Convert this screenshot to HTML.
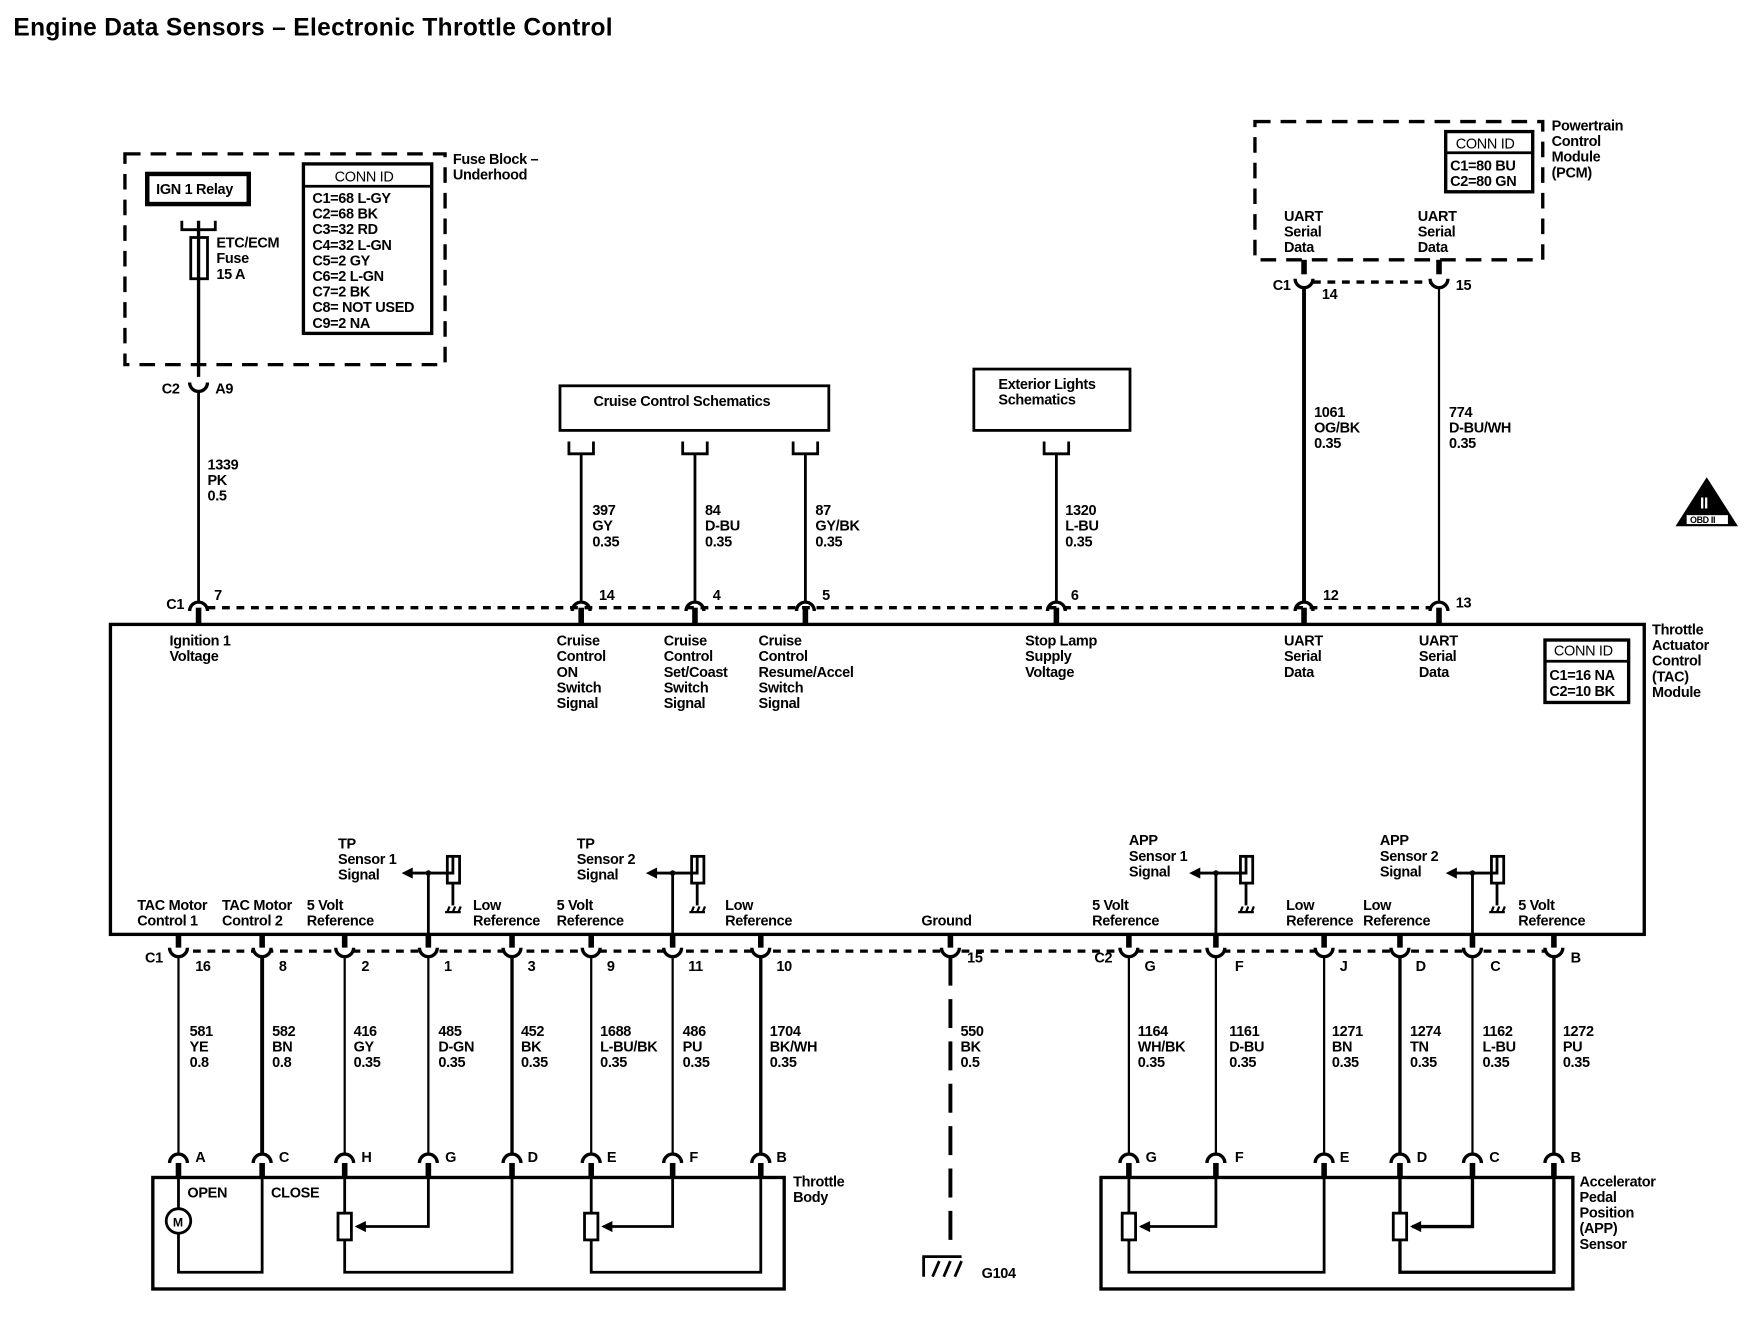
<!DOCTYPE html>
<html><head><meta charset="utf-8"><style>
html,body{margin:0;padding:0;background:#fff;}
svg{display:block;}
text{font-family:"Liberation Sans",Arial,sans-serif;font-size:13px;fill:#000;font-weight:bold;letter-spacing:-0.3px;}
.t{font-weight:normal;}
</style></head><body>
<svg width="1748" height="1328" viewBox="0 0 1567 1191" preserveAspectRatio="none" xmlns="http://www.w3.org/2000/svg">
<g fill="none" stroke="#000" stroke-width="2.5">
<rect x="112" y="138" width="287" height="189" stroke-dasharray="14,9" stroke-width="3"/>
<rect x="132" y="156" width="91" height="27" stroke-width="4"/>
<rect x="272" y="147" width="115" height="152" stroke-width="3"/>
<line x1="272" y1="167" x2="387" y2="167"/>
<path d="M163 198 v8 h30 v-8" stroke-width="2.5"/>
<rect x="171" y="213" width="15" height="37"/>
<line x1="178" y1="198" x2="178" y2="338" stroke-width="3"/>
<path d="M170 343 A8 8 0 0 0 186 343" stroke-width="3"/>
<line x1="178" y1="351" x2="178" y2="540" stroke-width="2.5"/>
<rect x="502" y="346" width="241" height="40"/>
<rect x="873" y="331" width="140" height="55"/>
<path d="M510 396 v11 h22 v-11 M612 396 v11 h22 v-11 M711 396 v11 h22 v-11 M936 396 v11 h22 v-11"/>
<line x1="521" y1="407" x2="521" y2="540"/>
<line x1="623" y1="407" x2="623" y2="540"/>
<line x1="722" y1="407" x2="722" y2="540"/>
<line x1="947" y1="407" x2="947" y2="540"/>
<rect x="1125" y="109" width="258" height="124" stroke-dasharray="14,9" stroke-width="3"/>
<rect x="1296" y="118" width="78" height="54" stroke-width="3"/>
<line x1="1296" y1="137" x2="1374" y2="137"/>
<line x1="1169" y1="233" x2="1169" y2="246" stroke-width="5"/>
<line x1="1290" y1="233" x2="1290" y2="246" stroke-width="5"/>
<path d="M1161 250 A8 8 0 0 0 1177 250 M1282 250 A8 8 0 0 0 1298 250" stroke-width="3"/>
<line x1="1177" y1="253" x2="1282" y2="253" stroke-dasharray="7,6" stroke-width="3"/>
<line x1="1169" y1="258" x2="1169" y2="540" stroke-width="3.5"/>
<line x1="1290" y1="258" x2="1290" y2="540" stroke-width="2"/>
<line x1="186" y1="545" x2="1282" y2="545" stroke-dasharray="7,6" stroke-width="3"/>
<path d="M170 548 A8 8 0 0 1 186 548 M513 548 A8 8 0 0 1 529 548 M615 548 A8 8 0 0 1 631 548 M714 548 A8 8 0 0 1 730 548 M939 548 A8 8 0 0 1 955 548 M1161 548 A8 8 0 0 1 1177 548 M1282 548 A8 8 0 0 1 1298 548" stroke-width="3"/>
<g stroke-width="5"><line x1="178" y1="545" x2="178" y2="560"/><line x1="521" y1="545" x2="521" y2="560"/><line x1="623" y1="545" x2="623" y2="560"/><line x1="722" y1="545" x2="722" y2="560"/><line x1="947" y1="545" x2="947" y2="560"/><line x1="1169" y1="545" x2="1169" y2="560"/><line x1="1290" y1="545" x2="1290" y2="560"/></g>
<rect x="99" y="560" width="1375" height="278" stroke-width="3"/>
<rect x="1385" y="574" width="75" height="56" stroke-width="3"/>
<line x1="1385" y1="593" x2="1460" y2="593"/>
<g stroke-width="2.5">
<path d="M384 838 V783 H406 V768"/><rect x="401" y="768" width="11" height="24"/><path d="M406 792 V812"/><path d="M369 783 H384"/>
<path d="M603 838 V783 H625 V768"/><rect x="620" y="768" width="11" height="24"/><path d="M625 792 V812"/><path d="M588 783 H603"/>
<path d="M1090 838 V783 H1117 V768"/><rect x="1112" y="768" width="11" height="24"/><path d="M1117 792 V812"/><path d="M1075 783 H1090"/>
<path d="M1320 838 V783 H1342 V768"/><rect x="1337" y="768" width="11" height="24"/><path d="M1342 792 V812"/><path d="M1305 783 H1320"/>
</g>
<line x1="160" y1="853" x2="1393" y2="853" stroke-dasharray="7,6" stroke-width="3"/>
<g stroke-width="5">
<line x1="160" y1="838" x2="160" y2="850"/><line x1="235" y1="838" x2="235" y2="850"/><line x1="309" y1="838" x2="309" y2="850"/><line x1="384" y1="838" x2="384" y2="850"/><line x1="459" y1="838" x2="459" y2="850"/><line x1="530" y1="838" x2="530" y2="850"/><line x1="603" y1="838" x2="603" y2="850"/><line x1="682" y1="838" x2="682" y2="850"/><line x1="852" y1="838" x2="852" y2="850"/>
<line x1="1012" y1="838" x2="1012" y2="850"/><line x1="1090" y1="838" x2="1090" y2="850"/><line x1="1187" y1="838" x2="1187" y2="850"/><line x1="1255" y1="838" x2="1255" y2="850"/><line x1="1320" y1="838" x2="1320" y2="850"/><line x1="1393" y1="838" x2="1393" y2="850"/>
</g>
<path d="M152 850 A8 8 0 0 0 168 850 M227 850 A8 8 0 0 0 243 850 M301 850 A8 8 0 0 0 317 850 M376 850 A8 8 0 0 0 392 850 M451 850 A8 8 0 0 0 467 850 M522 850 A8 8 0 0 0 538 850 M595 850 A8 8 0 0 0 611 850 M674 850 A8 8 0 0 0 690 850 M844 850 A8 8 0 0 0 860 850 M1004 850 A8 8 0 0 0 1020 850 M1082 850 A8 8 0 0 0 1098 850 M1179 850 A8 8 0 0 0 1195 850 M1247 850 A8 8 0 0 0 1263 850 M1312 850 A8 8 0 0 0 1328 850 M1385 850 A8 8 0 0 0 1401 850" fill="#fff" stroke-width="3"/>
<g stroke-width="2.5">
<line x1="160" y1="858" x2="160" y2="1035" stroke-width="2"/><line x1="235" y1="858" x2="235" y2="1035" stroke-width="3.5"/><line x1="309" y1="858" x2="309" y2="1035" stroke-width="2"/><line x1="384" y1="858" x2="384" y2="1035" stroke-width="2"/><line x1="459" y1="858" x2="459" y2="1035" stroke-width="3"/><line x1="530" y1="858" x2="530" y2="1035" stroke-width="2"/><line x1="603" y1="858" x2="603" y2="1035" stroke-width="2"/><line x1="682" y1="858" x2="682" y2="1035" stroke-width="3"/>
<line x1="852" y1="858" x2="852" y2="1120" stroke-dasharray="26,12" stroke-width="3.5"/>
<line x1="1012" y1="858" x2="1012" y2="1035" stroke-width="2"/><line x1="1090" y1="858" x2="1090" y2="1035" stroke-width="2"/><line x1="1187" y1="858" x2="1187" y2="1035" stroke-width="2"/><line x1="1255" y1="858" x2="1255" y2="1035" stroke-width="3"/><line x1="1320" y1="858" x2="1320" y2="1035" stroke-width="2"/><line x1="1393" y1="858" x2="1393" y2="1035" stroke-width="3"/>
</g>
<path d="M152 1043 A8 8 0 0 1 168 1043 M227 1043 A8 8 0 0 1 243 1043 M301 1043 A8 8 0 0 1 317 1043 M376 1043 A8 8 0 0 1 392 1043 M451 1043 A8 8 0 0 1 467 1043 M522 1043 A8 8 0 0 1 538 1043 M595 1043 A8 8 0 0 1 611 1043 M674 1043 A8 8 0 0 1 690 1043 M1004 1043 A8 8 0 0 1 1020 1043 M1082 1043 A8 8 0 0 1 1098 1043 M1179 1043 A8 8 0 0 1 1195 1043 M1247 1043 A8 8 0 0 1 1263 1043 M1312 1043 A8 8 0 0 1 1328 1043 M1385 1043 A8 8 0 0 1 1401 1043" stroke-width="3"/>
<g stroke-width="5">
<line x1="160" y1="1043" x2="160" y2="1056"/><line x1="235" y1="1043" x2="235" y2="1056"/><line x1="309" y1="1043" x2="309" y2="1056"/><line x1="384" y1="1043" x2="384" y2="1056"/><line x1="459" y1="1043" x2="459" y2="1056"/><line x1="530" y1="1043" x2="530" y2="1056"/><line x1="603" y1="1043" x2="603" y2="1056"/><line x1="682" y1="1043" x2="682" y2="1056"/>
<line x1="1012" y1="1043" x2="1012" y2="1056"/><line x1="1090" y1="1043" x2="1090" y2="1056"/><line x1="1187" y1="1043" x2="1187" y2="1056"/><line x1="1255" y1="1043" x2="1255" y2="1056"/><line x1="1320" y1="1043" x2="1320" y2="1056"/><line x1="1393" y1="1043" x2="1393" y2="1056"/>
</g>
<rect x="137" y="1056" width="566" height="100" stroke-width="3"/>
<circle cx="160" cy="1095" r="11"/>
<path d="M160 1056 V1084 M160 1106 V1141 H235 V1056"/>
<path d="M309 1056 V1088 M309 1112 V1141 H459 V1056 M384 1056 V1100 H320"/>
<rect x="303" y="1088" width="12" height="24"/>
<path d="M530 1056 V1088 M530 1112 V1141 H682 V1056 M603 1056 V1100 H541"/>
<rect x="524" y="1088" width="12" height="24"/>
<rect x="987" y="1056" width="423" height="100" stroke-width="3"/>
<path d="M1012 1056 V1088 M1012 1112 V1141 H1187 V1056 M1090 1056 V1100 H1023"/>
<rect x="1006" y="1088" width="12" height="24"/>
<path d="M1255 1056 V1088 M1255 1112 V1141 H1393 V1056 M1320 1056 V1100 H1266" stroke-width="3"/>
<rect x="1249" y="1088" width="12" height="24"/>
<path d="M828 1145 V1127 H862 M836 1145 l6 -14 M846 1145 l6 -14 M856 1145 l6 -14" stroke-width="2.5"/>
</g>
<g fill="#000">
<polygon points="360,783 370,778 370,788"/><polygon points="579,783 589,778 589,788"/><polygon points="1066,783 1076,778 1076,788"/><polygon points="1296,783 1306,778 1306,788"/>
<polygon points="318,1100 328,1095 328,1105"/><polygon points="539,1100 549,1095 549,1105"/><polygon points="1021,1100 1031,1095 1031,1105"/><polygon points="1264,1100 1274,1095 1274,1105"/>
<circle cx="384" cy="783" r="2.5"/><circle cx="603" cy="783" r="2.5"/><circle cx="1090" cy="783" r="2.5"/><circle cx="1320" cy="783" r="2.5"/>
<polygon points="1530,428 1558,472 1502,472"/>
</g>
<g stroke="#000" stroke-width="2" fill="none">
<path d="M399 818 h14 M401 818 l2 -5 M406 818 l2 -5 M411 818 l2 -5"/>
<path d="M618 818 h14 M620 818 l2 -5 M625 818 l2 -5 M630 818 l2 -5"/>
<path d="M1110 818 h14 M1112 818 l2 -5 M1117 818 l2 -5 M1122 818 l2 -5"/>
<path d="M1335 818 h14 M1337 818 l2 -5 M1342 818 l2 -5 M1347 818 l2 -5"/>
</g>
<rect x="1512" y="462" width="37" height="8" fill="#fff"/>
<text x="1515" y="469" style="font-size:8px">OBD II</text>
<text x="1524" y="456" style="font-size:14px;fill:#fff">II</text>

<text x="12" y="32" style="font-size:22px;letter-spacing:0.3px">Engine Data Sensors – Electronic Throttle Control</text>
<text x="140" y="174">IGN 1 Relay</text>
<text x="300" y="163" class="t">CONN ID</text>
<text x="280" y="182">C1=68 L-GY</text><text x="280" y="196">C2=68 BK</text><text x="280" y="210">C3=32 RD</text><text x="280" y="224">C4=32 L-GN</text><text x="280" y="238">C5=2 GY</text><text x="280" y="252">C6=2 L-GN</text><text x="280" y="266">C7=2 BK</text><text x="280" y="280">C8= NOT USED</text><text x="280" y="294">C9=2 NA</text>
<text x="194" y="222">ETC/ECM</text><text x="194" y="236">Fuse</text><text x="194" y="250">15 A</text>
<text x="406" y="147">Fuse Block –</text><text x="406" y="161">Underhood</text>
<text x="145" y="353">C2</text><text x="193" y="353">A9</text>
<text x="186" y="421">1339</text><text x="186" y="435">PK</text><text x="186" y="449">0.5</text>
<text x="532" y="364">Cruise Control Schematics</text>
<text x="895" y="349">Exterior Lights</text><text x="895" y="363">Schematics</text>
<text x="531" y="462">397</text><text x="531" y="476">GY</text><text x="531" y="490">0.35</text>
<text x="632" y="462">84</text><text x="632" y="476">D-BU</text><text x="632" y="490">0.35</text>
<text x="731" y="462">87</text><text x="731" y="476">GY/BK</text><text x="731" y="490">0.35</text>
<text x="955" y="462">1320</text><text x="955" y="476">L-BU</text><text x="955" y="490">0.35</text>
<text x="1178" y="374">1061</text><text x="1178" y="388">OG/BK</text><text x="1178" y="402">0.35</text>
<text x="1299" y="374">774</text><text x="1299" y="388">D-BU/WH</text><text x="1299" y="402">0.35</text>
<text x="1391" y="117">Powertrain</text><text x="1391" y="131">Control</text><text x="1391" y="145">Module</text><text x="1391" y="159">(PCM)</text>
<text x="1305" y="133" class="t">CONN ID</text><text x="1300" y="153">C1=80 BU</text><text x="1300" y="167">C2=80 GN</text>
<text x="1151" y="198">UART</text><text x="1151" y="212">Serial</text><text x="1151" y="226">Data</text>
<text x="1271" y="198">UART</text><text x="1271" y="212">Serial</text><text x="1271" y="226">Data</text>
<text x="1141" y="260">C1</text><text x="1185" y="268">14</text><text x="1305" y="260">15</text>
<text x="149" y="546">C1</text><text x="192" y="538">7</text><text x="537" y="538">14</text><text x="639" y="538">4</text><text x="737" y="538">5</text><text x="960" y="538">6</text><text x="1186" y="538">12</text><text x="1305" y="545">13</text>
<text x="152" y="579">Ignition 1</text><text x="152" y="593">Voltage</text>
<text x="499" y="579">Cruise</text><text x="499" y="593">Control</text><text x="499" y="607">ON</text><text x="499" y="621">Switch</text><text x="499" y="635">Signal</text>
<text x="595" y="579">Cruise</text><text x="595" y="593">Control</text><text x="595" y="607">Set/Coast</text><text x="595" y="621">Switch</text><text x="595" y="635">Signal</text>
<text x="680" y="579">Cruise</text><text x="680" y="593">Control</text><text x="680" y="607">Resume/Accel</text><text x="680" y="621">Switch</text><text x="680" y="635">Signal</text>
<text x="919" y="579">Stop Lamp</text><text x="919" y="593">Supply</text><text x="919" y="607">Voltage</text>
<text x="1151" y="579">UART</text><text x="1151" y="593">Serial</text><text x="1151" y="607">Data</text>
<text x="1272" y="579">UART</text><text x="1272" y="593">Serial</text><text x="1272" y="607">Data</text>
<text x="1393" y="588" class="t">CONN ID</text><text x="1389" y="610">C1=16 NA</text><text x="1389" y="624">C2=10 BK</text>
<text x="1481" y="569">Throttle</text><text x="1481" y="583">Actuator</text><text x="1481" y="597">Control</text><text x="1481" y="611">(TAC)</text><text x="1481" y="625">Module</text>
<text x="303" y="761">TP</text><text x="303" y="775">Sensor 1</text><text x="303" y="789">Signal</text>
<text x="517" y="761">TP</text><text x="517" y="775">Sensor 2</text><text x="517" y="789">Signal</text>
<text x="1012" y="758">APP</text><text x="1012" y="772">Sensor 1</text><text x="1012" y="786">Signal</text>
<text x="1237" y="758">APP</text><text x="1237" y="772">Sensor 2</text><text x="1237" y="786">Signal</text>
<text x="123" y="816">TAC Motor</text><text x="123" y="830">Control 1</text>
<text x="199" y="816">TAC Motor</text><text x="199" y="830">Control 2</text>
<text x="275" y="816">5 Volt</text><text x="275" y="830">Reference</text>
<text x="424" y="816">Low</text><text x="424" y="830">Reference</text>
<text x="499" y="816">5 Volt</text><text x="499" y="830">Reference</text>
<text x="650" y="816">Low</text><text x="650" y="830">Reference</text>
<text x="826" y="830">Ground</text>
<text x="979" y="816">5 Volt</text><text x="979" y="830">Reference</text>
<text x="1153" y="816">Low</text><text x="1153" y="830">Reference</text>
<text x="1222" y="816">Low</text><text x="1222" y="830">Reference</text>
<text x="1361" y="816">5 Volt</text><text x="1361" y="830">Reference</text>
<text x="130" y="863">C1</text><text x="175" y="871">16</text><text x="250" y="871">8</text><text x="324" y="871">2</text><text x="398" y="871">1</text><text x="473" y="871">3</text><text x="544" y="871">9</text><text x="617" y="871">11</text><text x="696" y="871">10</text><text x="867" y="863">15</text>
<text x="981" y="863">C2</text><text x="1026" y="871">G</text><text x="1107" y="871">F</text><text x="1201" y="871">J</text><text x="1269" y="871">D</text><text x="1336" y="871">C</text><text x="1408" y="863">B</text>
<text x="170" y="929">581</text><text x="170" y="943">YE</text><text x="170" y="957">0.8</text>
<text x="244" y="929">582</text><text x="244" y="943">BN</text><text x="244" y="957">0.8</text>
<text x="317" y="929">416</text><text x="317" y="943">GY</text><text x="317" y="957">0.35</text>
<text x="393" y="929">485</text><text x="393" y="943">D-GN</text><text x="393" y="957">0.35</text>
<text x="467" y="929">452</text><text x="467" y="943">BK</text><text x="467" y="957">0.35</text>
<text x="538" y="929">1688</text><text x="538" y="943">L-BU/BK</text><text x="538" y="957">0.35</text>
<text x="612" y="929">486</text><text x="612" y="943">PU</text><text x="612" y="957">0.35</text>
<text x="690" y="929">1704</text><text x="690" y="943">BK/WH</text><text x="690" y="957">0.35</text>
<text x="861" y="929">550</text><text x="861" y="943">BK</text><text x="861" y="957">0.5</text>
<text x="1020" y="929">1164</text><text x="1020" y="943">WH/BK</text><text x="1020" y="957">0.35</text>
<text x="1102" y="929">1161</text><text x="1102" y="943">D-BU</text><text x="1102" y="957">0.35</text>
<text x="1194" y="929">1271</text><text x="1194" y="943">BN</text><text x="1194" y="957">0.35</text>
<text x="1264" y="929">1274</text><text x="1264" y="943">TN</text><text x="1264" y="957">0.35</text>
<text x="1329" y="929">1162</text><text x="1329" y="943">L-BU</text><text x="1329" y="957">0.35</text>
<text x="1401" y="929">1272</text><text x="1401" y="943">PU</text><text x="1401" y="957">0.35</text>
<text x="175" y="1042">A</text><text x="250" y="1042">C</text><text x="324" y="1042">H</text><text x="399" y="1042">G</text><text x="473" y="1042">D</text><text x="544" y="1042">E</text><text x="618" y="1042">F</text><text x="696" y="1042">B</text>
<text x="1027" y="1042">G</text><text x="1107" y="1042">F</text><text x="1201" y="1042">E</text><text x="1270" y="1042">D</text><text x="1335" y="1042">C</text><text x="1408" y="1042">B</text>
<text x="168" y="1074">OPEN</text><text x="243" y="1074">CLOSE</text>
<text x="155" y="1100" style="font-size:11px">M</text>
<text x="711" y="1064">Throttle</text><text x="711" y="1078">Body</text>
<text x="1416" y="1064">Accelerator</text><text x="1416" y="1078">Pedal</text><text x="1416" y="1092">Position</text><text x="1416" y="1106">(APP)</text><text x="1416" y="1120">Sensor</text>
<text x="880" y="1146">G104</text>
</svg>
</body></html>
